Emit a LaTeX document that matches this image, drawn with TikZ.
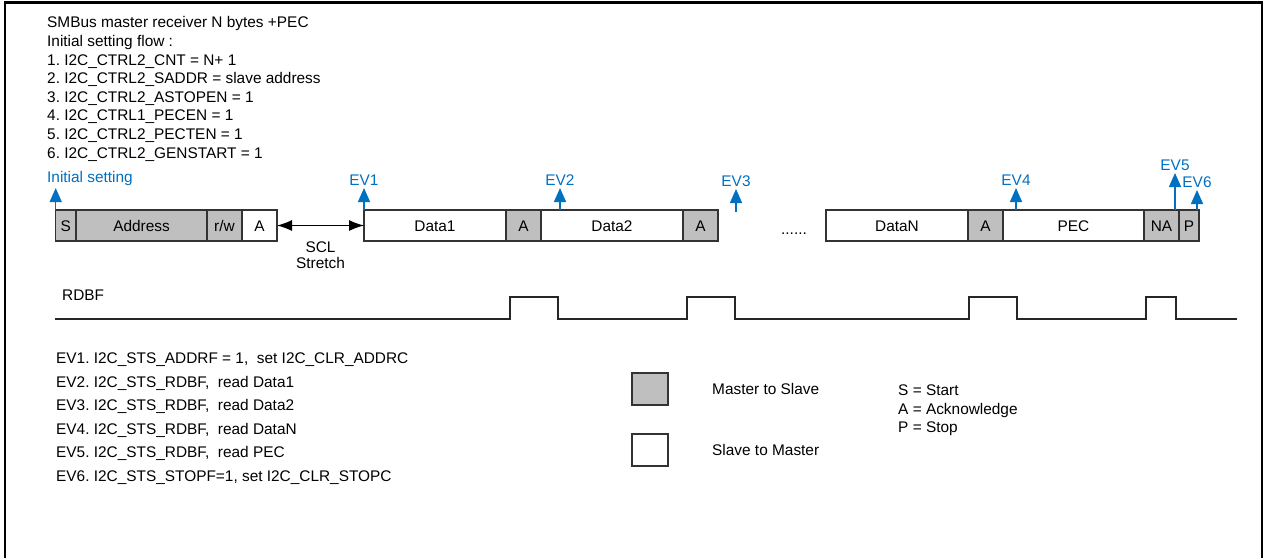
\documentclass[tikz,border=0pt]{standalone}
\usepackage{fontspec}
\setmainfont{Liberation Sans}
\usetikzlibrary{arrows.meta,positioning}
\definecolor{evblue}{RGB}{0, 112, 192}
\definecolor{boxgray}{RGB}{191, 191, 191}
\newcommand{\lblfont}{\fontsize{15.4}{18.6}\selectfont\frenchspacing}

\begin{document}
\begin{tikzpicture}[x=1pt, y=-1pt, font=\lblfont,
	mbox/.style={draw=black!80, line width=1.3pt, fill=boxgray, minimum height=31pt, inner sep=0pt, outer sep=0pt, text height=11pt, text depth=0pt},
	sbox/.style={mbox, fill=white},
	evarrow/.style={draw=evblue, line width=1.4pt, -{Triangle[length=14pt, width=12pt]}},
	evlabel/.style={text=evblue, inner sep=2.5pt}]
	\useasboundingbox (0,0) rectangle (1265,558);
	\draw[line width=2.2pt] (5,558) -- (5,2.5) -- (1262,2.5) -- (1262,558);

	\node[anchor=north west, inner sep=0pt, align=left] (flow) at (47,16.5) {SMBus master receiver N bytes +PEC\\Initial setting flow :\\1. I2C\_CTRL2\_CNT = N+ 1\\2. I2C\_CTRL2\_SADDR = slave address\\3. I2C\_CTRL2\_ASTOPEN = 1\\4. I2C\_CTRL1\_PECEN = 1\\5. I2C\_CTRL2\_PECTEN = 1\\6. I2C\_CTRL2\_GENSTART = 1};

	% address phase
	\node[mbox, minimum width=20.3pt, anchor=north west] (s) at (55.7,210) {S};
	\node[mbox, minimum width=131pt, right=0pt of s] (addr) {Address};
	\node[mbox, minimum width=35pt, right=0pt of addr] (rw) {r/w};
	\node[sbox, minimum width=35pt, right=0pt of rw] (ack0) {A};

	% data phase
	\node[sbox, minimum width=142pt, right=87pt of ack0] (d1) {Data1};
	\node[mbox, minimum width=35pt, right=0pt of d1] (ack1) {A};
	\node[sbox, minimum width=142pt, right=0pt of ack1] (d2) {Data2};
	\node[mbox, minimum width=35pt, right=0pt of d2] (ack2) {A};
	\node[anchor=base] (dots) at (794,234) {......};
	\node[sbox, minimum width=142pt, right=108pt of ack2] (dn) {DataN};
	\node[mbox, minimum width=35pt, right=0pt of dn] (ackn) {A};
	\node[sbox, minimum width=141pt, right=0pt of ackn] (pec) {PEC};
	\node[mbox, minimum width=35pt, right=0pt of pec] (nack) {NA};
	\node[mbox, minimum width=20pt, right=0pt of nack] (stop) {P};

	% SCL stretch
	\draw[{Latex[length=15pt, width=11pt]}-{Latex[length=15pt, width=11pt]}, line width=1.2pt] (ack0) -- node[below=16pt, inner sep=0pt, align=center, font=\fontsize{15.4}{16}\selectfont] (scl) {SCL\\Stretch} (d1);

	% events
	\node[evlabel, above right=22pt and -11.2pt of s.north west] (init) {Initial setting};
	\draw[evarrow] (s.north west) -- (s.north west |- init.south);
	\node[evlabel, above=22pt of d1.north west] (ev1) {EV1};
	\draw[evarrow] (d1.north west) -- (ev1);
	\coordinate (ev2base) at ([xshift=19pt]ack1.north east);
	\node[evlabel, above=22pt of ev2base] (ev2) {EV2};
	\draw[evarrow] (ev2base) -- (ev2);
	\coordinate (ev3base) at ([xshift=18pt, yshift=-2pt]ack2.north east);
	\node[evlabel, above=23pt of ev3base] (ev3) {EV3};
	\draw[evarrow] (ev3base) -- (ev3);
	\coordinate (ev4base) at ([xshift=13pt]ackn.north east);
	\node[evlabel, above=22pt of ev4base] (ev4) {EV4};
	\draw[evarrow] (ev4base) -- (ev4);
	\coordinate (ev5base) at ([xshift=-4pt]nack.north east);
	\node[evlabel, above=37pt of ev5base] (ev5) {EV5};
	\draw[evarrow] (ev5base) -- (ev5);
	\coordinate (ev6base) at ([xshift=-2pt]stop.north east);
	\node[evlabel, above=20pt of ev6base] (ev6) {EV6};
	\draw[evarrow] (ev6base) -- (ev6);

	% RDBF
	\node[anchor=base west, inner sep=0pt] (rdbf) at (62,300.5) {RDBF};
	\draw[line width=1.5pt, black!85] (55,319) -- (510,319) -- (510,297) -- (558,297) -- (558,319) -- (687,319) -- (687,297) -- (735,297) -- (735,319) -- (969,319) -- (969,297) -- (1017,297) -- (1017,319) -- (1146,319) -- (1146,297) -- (1176,297) -- (1176,319) -- (1237,319);

	% event list
	\node[anchor=north west, inner sep=0pt, align=left, font=\fontsize{15.4}{23.6}\selectfont\frenchspacing] (evlist) at (56,352.5) {EV1. I2C\_STS\_ADDRF = 1,\ \ set I2C\_CLR\_ADDRC\\EV2. I2C\_STS\_RDBF,\ \ read Data1\\EV3. I2C\_STS\_RDBF,\ \ read Data2\\EV4. I2C\_STS\_RDBF,\ \ read DataN\\EV5. I2C\_STS\_RDBF,\ \ read PEC\\EV6. I2C\_STS\_STOPF=1, set I2C\_CLR\_STOPC};

	% legend
	\node[mbox, minimum width=36pt, minimum height=32pt, anchor=north west] (legm) at (632,373) {};
	\node[sbox, minimum width=36pt, minimum height=32pt, below=29pt of legm] (legs) {};
	\node[right=44pt of legm, inner sep=0pt] (legmtxt) {Master to Slave};
	\node[right=44pt of legs, inner sep=0pt] (legstxt) {Slave to Master};
	\node[anchor=north west, inner sep=0pt, align=left] (abbr) at (898,384.5) {S = Start\\A = Acknowledge\\P = Stop};
\end{tikzpicture}
\end{document}
